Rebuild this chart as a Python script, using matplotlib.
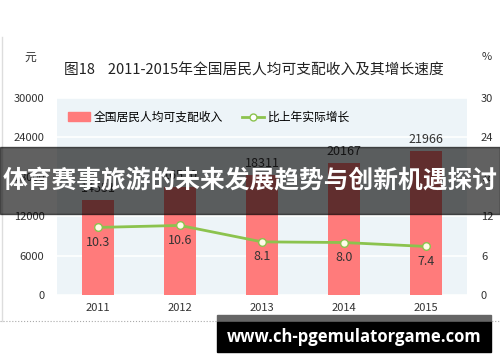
import matplotlib.pyplot as plt
from matplotlib.patches import Rectangle
from matplotlib.lines import Line2D

plt.rcParams['font.family'] = ['Noto Sans CJK SC', 'DejaVu Sans']

# data
years = ['2011', '2012', '2013', '2014', '2015']
income = [14551, 16510, 18311, 20167, 21966]
growth = [10.3, 10.6, 8.1, 8.0, 7.4]
left_ticks = [0, 6000, 12000, 18000, 24000, 30000]
right_ticks = [0, 6, 12, 18, 24, 30]

bar_color = '#ff7b7b'
line_color = '#8cc34e'
text_color = '#333333'

fig = plt.figure(figsize=(5, 3.62), dpi=100)
ax = fig.add_axes([0.114, 0.185, 0.82, 0.544])
ax2 = ax.twinx()

x = list(range(len(years)))
ax.set_facecolor('#edf4f8')
ax.bar(x, income, width=0.39, color=bar_color, zorder=3, label='全国居民人均可支配收入')
for xi, v in zip(x, income):
    ax.text(xi, v + 700, str(v), ha='center', va='bottom', fontsize=9, color=text_color, zorder=4)

ax.set_xlim(-0.5, len(years) - 0.5)
ax.set_ylim(0, 30000)
ax.set_yticks(left_ticks)
ax.set_xticks(x)
ax.set_xticklabels(years)
ax.grid(axis='y', color='white', lw=1.2, zorder=1)
ax.tick_params(length=0, labelsize=8, colors=text_color, pad=6)
ax.tick_params(axis='y', pad=9)
for s in ax.spines.values():
    s.set_visible(False)

ax2.plot(x, growth, color=line_color, lw=2, marker='o', ms=5.5, mfc='#fffbe8',
         mec=line_color, mew=1, zorder=5, label='比上年实际增长')
for xi, v in zip(x, growth):
    ax2.text(xi, v - 1.3, f'{v:.1f}', ha='center', va='top', fontsize=9, color=text_color)
ax2.set_ylim(0, 30)
ax2.set_yticks(right_ticks)
ax2.tick_params(length=0, labelsize=8, colors=text_color, pad=10)
for s in ax2.spines.values():
    s.set_visible(False)

handles = [Rectangle((0, 0), 1, 1, color=bar_color),
           Line2D([], [], color=line_color, lw=2, marker='o', ms=5, mfc='white', mec=line_color)]
ax.legend(handles, ['全国居民人均可支配收入', '比上年实际增长'], ncol=2, frameon=False,
          loc='upper left', bbox_to_anchor=(0.0, 0.99), fontsize=8.5, handlelength=1.9,
          handletextpad=0.3, columnspacing=1.6)

fig.text(0.128, 0.805, '图18    2011-2015年全国居民人均可支配收入及其增长速度',
         fontsize=10.6, color='#222222', va='center')
fig.text(0.06, 0.843, '元', fontsize=8.5, color=text_color, ha='center', va='center')
fig.text(0.974, 0.843, '%', fontsize=8, color=text_color, ha='center', va='center')

# page frame
fig.add_artist(Line2D([0.003, 0.003], [1 - 37 / 362, 1 - 321 / 362], color='#dddddd', lw=1))
fig.add_artist(Line2D([0, 1], [1 - 321 / 362, 1 - 321 / 362], color='#aaaaaa', lw=0.8, ls=':'))

# banner overlay
fig.add_artist(Rectangle((0, 1 - 214 / 362), 1, 67 / 362, transform=fig.transFigure,
                         color='black', alpha=0.62, zorder=10))
fig.text(0.5, 1 - 181 / 362, '体育赛事旅游的未来发展趋势与创新机遇探讨', fontsize=17.8,
         fontweight='bold', color='white', ha='center', va='center', zorder=11)

# watermark box
fig.add_artist(Rectangle((217 / 500, 1 - 322 / 362), 274 / 500, 7 / 362, transform=fig.transFigure,
                         color='#666666', zorder=10))
fig.add_artist(Rectangle((217 / 500, 1 - 352 / 362), 274 / 500, 30 / 362, transform=fig.transFigure,
                         color='black', zorder=10))
fig.text(354 / 500, 1 - 337 / 362, 'www.ch-pgemulatorgame.com', fontsize=12, fontweight='bold',
         color='white', ha='center', va='center', zorder=11, family=['Open Sans', 'DejaVu Sans'])

fig.savefig('out.png', dpi=100)
